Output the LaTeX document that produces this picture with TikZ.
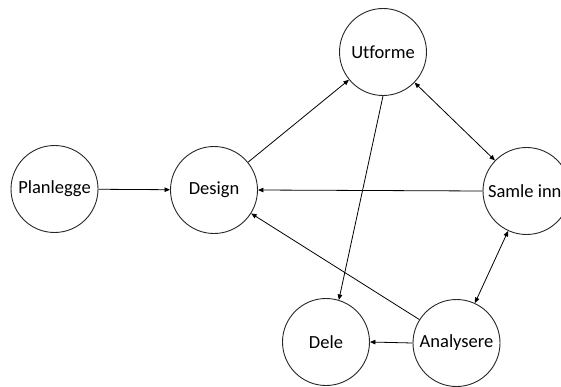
\documentclass[tikz,border=0pt]{standalone}
\usepackage{fontspec}
\setmainfont{Carlito}[Ligatures=NoCommon]
\usetikzlibrary{arrows.meta}
\begin{document}
\begin{tikzpicture}[x=1pt,y=-1pt,
  stage/.style={circle,draw=black!85,line width=0.9pt,minimum size=87pt,inner sep=0pt,font=\fontsize{18.5}{21}\selectfont},
  link/.style={line width=0.8pt,-{Triangle[length=5.5pt,width=4.5pt]}},
  twoway/.style={line width=0.8pt,{Triangle[length=5.5pt,width=4.5pt]}-{Triangle[length=5.5pt,width=4.5pt]}}]
\useasboundingbox (0,0) rectangle (561,387);
\clip (0,0) rectangle (561,387);
\node[stage] (plan) at (54.5,189) {Planlegge};
\node[stage] (design) at (214,190) {Design};
\node[stage] (utf) at (383,52) {Utforme};
\node[stage] (samle) at (526.5,191) {\makebox[77pt][l]{Samle inn}};
\node[stage] (dele) at (326,342) {Dele};
\node[stage] (anal) at (456.5,343) {Analysere};
\draw[link] (plan) -- (design);
\draw[link] (design) -- (utf);
\draw[twoway] (utf) -- (samle);
\draw[link] (samle.west) -- (design.east);
\draw[twoway] (anal) -- (samle);
\draw[link] (anal.west) -- (dele.east);
\draw[link] (anal) -- (design);
\draw[link] (utf.south) -- (dele.73);
\end{tikzpicture}
\end{document}
